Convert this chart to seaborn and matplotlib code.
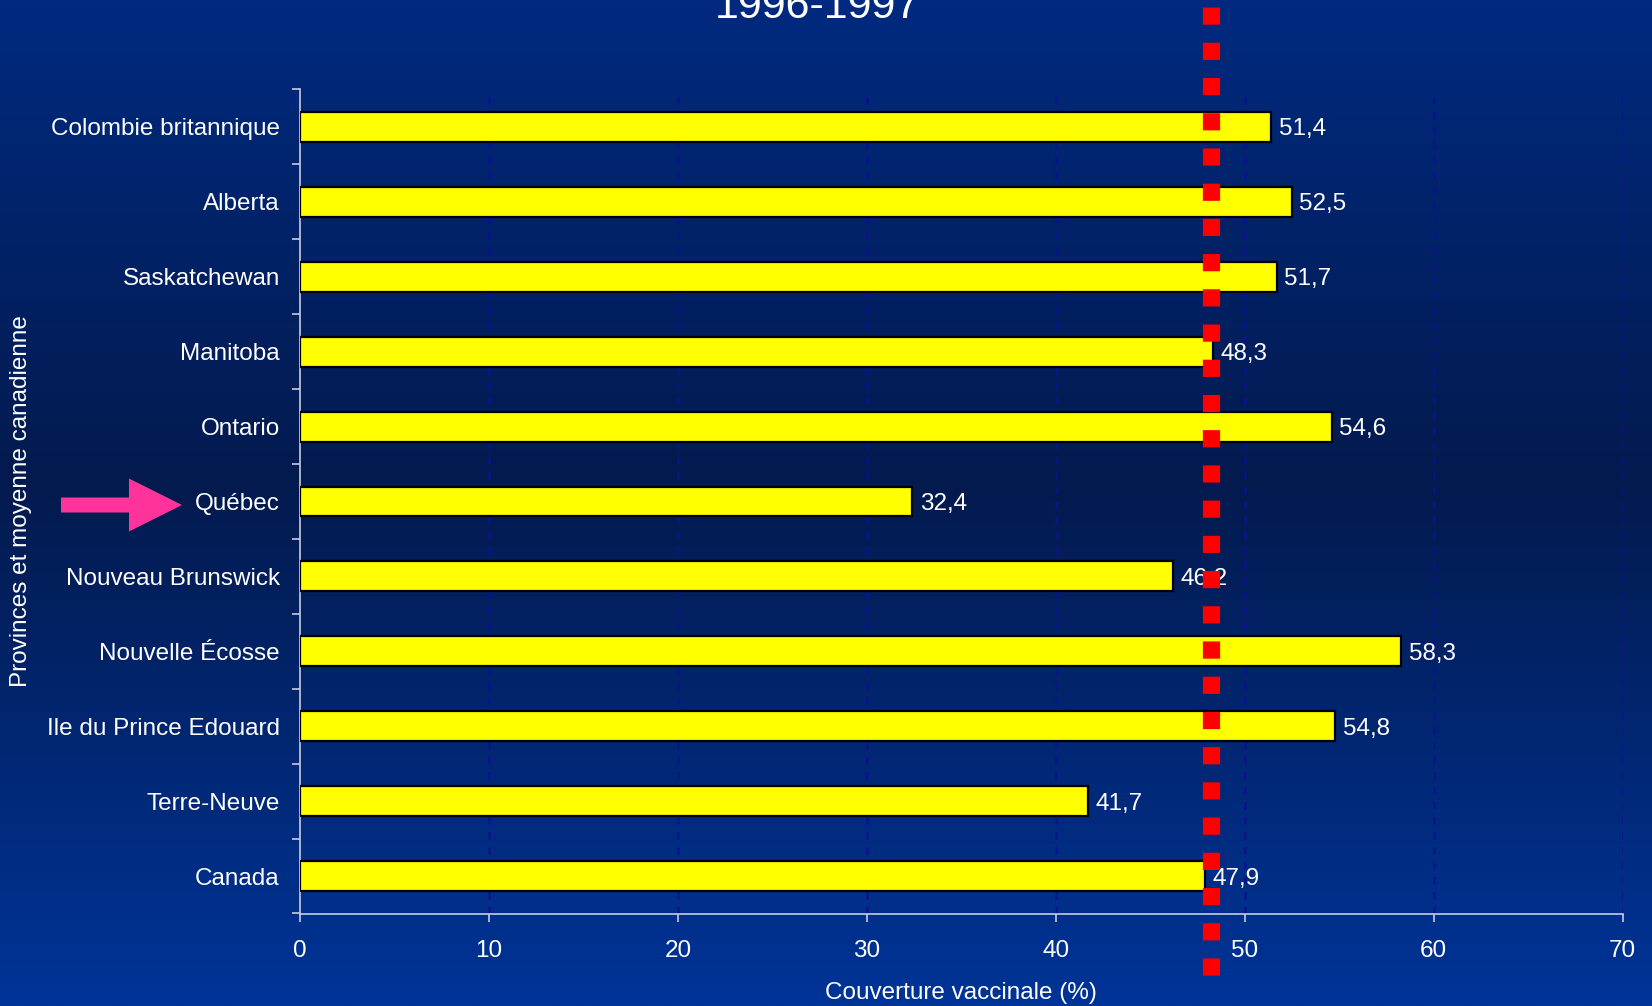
import numpy as np
import pandas as pd
import matplotlib
matplotlib.use("Agg")
import matplotlib.pyplot as plt
import matplotlib.transforms as mtransforms
from matplotlib.patches import Polygon
from matplotlib.ticker import FixedLocator
import seaborn as sns

# ---- data ----
provinces = ["Colombie britannique", "Alberta", "Saskatchewan", "Manitoba",
             "Ontario", "Québec", "Nouveau Brunswick", "Nouvelle Écosse",
             "Ile du Prince Edouard", "Terre-Neuve", "Canada"]
couverture = [51.4, 52.5, 51.7, 48.3, 54.6, 32.4, 46.2, 58.3, 54.8, 41.7, 47.9]
reference_value = 48.2
x_ticks = [0, 10, 20, 30, 40, 50, 60, 70]
title_text = "1996-1997"
xlabel_text = "Couverture vaccinale (%)"
ylabel_text = "Provinces et moyenne canadienne"
highlight = "Québec"

sns.set_theme(style="white")
plt.rcParams['font.family'] = ['Liberation Sans', 'DejaVu Sans']

W, H = 1652, 1006
FS = 17.5
fig = plt.figure(figsize=(W / 100, H / 100), dpi=100)

# background gradient
bg = fig.add_axes([0, 0, 1, 1], zorder=-10)
ys = np.linspace(0, 1, 400)
stops_y = [0.0, 0.48, 1.0]
stops_c = np.array([[0, 42, 128], [3, 26, 78], [0, 52, 152]]) / 255.0
grad = np.stack([np.interp(ys, stops_y, stops_c[:, k]) for k in range(3)], axis=-1)
grad = np.repeat(grad[:, None, :], 2, axis=1)
bg.imshow(grad, aspect="auto", extent=[0, 1, 1, 0])
bg.axis("off")

left, right = 300 / W, 1622.5 / W
bottom, top = 1 - 913.5 / H, 1 - 89.5 / H
ax = fig.add_axes([left, bottom, right - left, top - bottom])
ax.set_facecolor("none")

df = pd.DataFrame({"prov": provinces, "val": couverture})
sns.barplot(data=df, x="val", y="prov", orient="h", color="#ffff00",
            edgecolor="black", linewidth=1.6, width=0.4, saturation=1,
            ax=ax, zorder=3)

ax.set_xlim(0, 70)
ax.set_ylim(len(provinces) - 0.5, -0.5)

# grid
ax.set_xticks(x_ticks)
for xv in x_ticks[1:]:
    ax.axvline(xv, color="#0c128f", lw=1.8, ls=(0, (3, 3)), zorder=1)

# spines
for s in ["top", "right"]:
    ax.spines[s].set_visible(False)
for s in ["left", "bottom"]:
    ax.spines[s].set_color("#c8cce0")
    ax.spines[s].set_linewidth(1.2)

ax.tick_params(axis="x", colors="#c8cce0", length=6, width=1.2, direction="out",
               labelcolor="white", labelsize=FS, pad=13, bottom=True)
ax.tick_params(axis="y", which="major", length=0, labelcolor="white",
               labelsize=FS, pad=14.5, left=False)
ax.yaxis.set_minor_locator(FixedLocator(np.arange(-0.5, len(provinces), 1.0)))
ax.tick_params(axis="y", which="minor", colors="#c8cce0", length=6, width=1.2,
               direction="out", left=True)
ax.set_xticklabels([str(t) for t in x_ticks])

ax.set_xlabel(xlabel_text, color="white", fontsize=FS)
ax.set_ylabel(ylabel_text, color="white", fontsize=FS)
ax.yaxis.set_label_coords((32 - 300) / (1622.5 - 300), 0.5)
ax.xaxis.set_label_coords(0.5, -(982 - 913.5) / 824)

# value labels
for i, v in enumerate(couverture):
    ax.text(v + 0.4, i, f"{v:.1f}".replace(".", ","), color="white",
            fontsize=FS, va="center_baseline", ha="left", zorder=4)

# red dotted reference line, extending past the axes
trans = mtransforms.blended_transform_factory(ax.transData, ax.transAxes)
y_top = (913.5 - 7) / 824
y_bot = (913.5 - 986) / 824
ax.plot([reference_value, reference_value], [y_top, y_bot], transform=trans,
        color="#ff0000", lw=12.4, ls=(0, (1.0, 1.045)), solid_capstyle="butt",
        dash_capstyle="butt", clip_on=False, zorder=6)

# title
fig.text(0.495, 1 - 18 / H, title_text, color="white", fontsize=31,
         ha="center", va="baseline")

# pink arrow next to highlighted province
cy = 505
pts_px = [(61, cy - 7.5), (129, cy - 7.5), (129, cy - 26.5), (182, cy),
          (129, cy + 26.5), (129, cy + 7.5), (61, cy + 7.5)]
pts = [(x / W, 1 - y / H) for x, y in pts_px]
fig.patches.append(Polygon(pts, closed=True, transform=fig.transFigure,
                           facecolor="#ff3399", edgecolor="none", zorder=5))

fig.savefig("out.png", dpi=100)
